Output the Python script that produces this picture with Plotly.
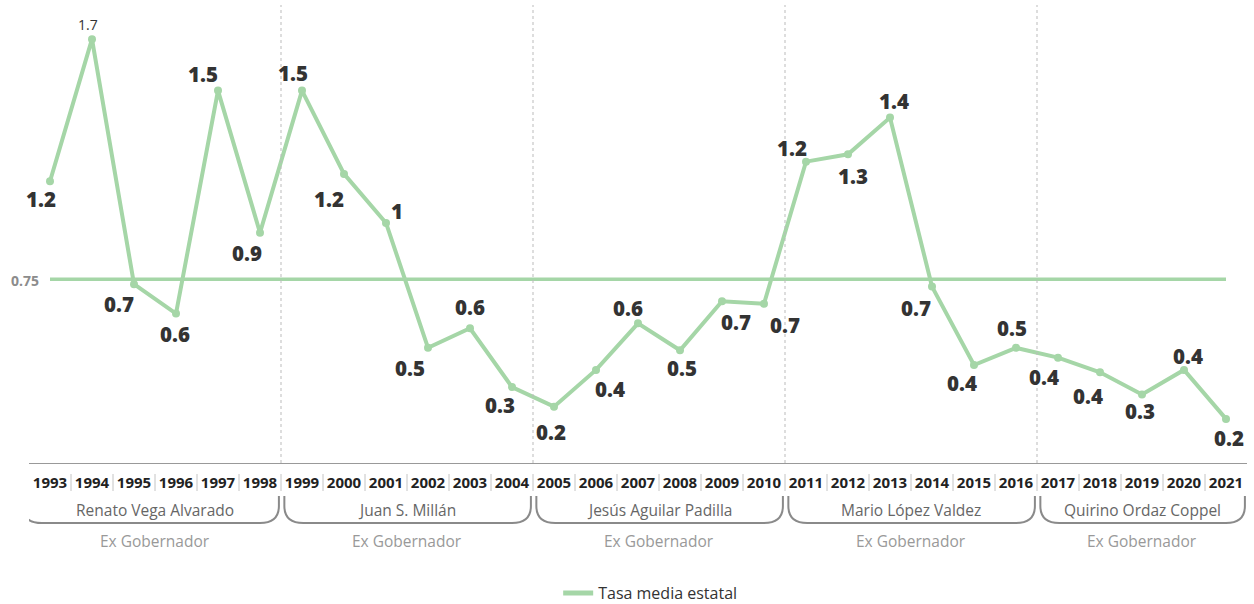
import plotly.graph_objects as go

years = list(range(1993, 2022))
values = [1.15, 1.73, 0.73, 0.61, 1.52, 0.94, 1.52, 1.18, 0.98, 0.47,
          0.55, 0.31, 0.23, 0.38, 0.57, 0.46, 0.66, 0.65, 1.23, 1.26,
          1.41, 0.72, 0.40, 0.47, 0.43, 0.37, 0.28, 0.38, 0.18]
labels = ["1.2", "1.7", "0.7", "0.6", "1.5", "0.9", "1.5", "1.2", "1", "0.5",
          "0.6", "0.3", "0.2", "0.4", "0.6", "0.5", "0.7", "0.7", "1.2", "1.3",
          "1.4", "0.7", "0.4", "0.5", "0.4", "0.4", "0.3", "0.4", "0.2"]
state_mean = 0.75
governors = ["Renato Vega Alvarado", "Juan S. Millán", "Jesús Aguilar Padilla",
             "Mario López Valdez", "Quirino Ordaz Coppel"]
governor_role = "Ex Gobernador"
term_starts = [1993, 1999, 2005, 2011, 2017]
term_ends = [1998, 2004, 2010, 2016, 2021]
legend_name = "Tasa media estatal"

# label offsets from their point, in pixels (dx right, dy down) - styling only
label_dx = [-9, -4, -15, -1, -15, -13, -9, -15, 11, -18,
            0, -12, -3, 14, -10, 2, 14, 21, -14, 5,
            4, -16, -12, -4, -14, -12, -2, 4, 3]
label_dy = [18, -15, 20, 20, -17, 20, -18, 25, -12, 20,
            -21, 18, 25, 19, -15, 18, 21, 21, -14, 22,
            -17, 21, 18, -20, 19, 24, 17, -14, 19]

GREEN = "#a5d6a7"
FONT = "Open Sans"

def py2paper(py):
    # pixel row -> paper coordinate (plot area from y=5 to y=463)
    return (463 - py) / 458.0

fig = go.Figure()

# state mean reference line
fig.add_trace(go.Scatter(
    x=[years[0], years[-1]], y=[state_mean, state_mean], mode="lines",
    line=dict(color=GREEN, width=3.5), showlegend=False, hoverinfo="skip"))

# main series
fig.add_trace(go.Scatter(
    x=years, y=values, mode="lines+markers",
    line=dict(color=GREEN, width=4), marker=dict(color=GREEN, size=8),
    showlegend=False, cliponaxis=False))

# legend-only entry
fig.add_trace(go.Scatter(
    x=[None], y=[None], mode="lines", name=legend_name,
    line=dict(color=GREEN, width=5)))

shapes = []
# dotted term separators
for e in term_ends[:-1]:
    shapes.append(dict(type="line", xref="x", yref="paper", x0=e + 0.5, x1=e + 0.5,
                       y0=0, y1=1, line=dict(color="#bbbbbb", width=1, dash="dot")))
# separators between year labels
for y in years[:-1]:
    shapes.append(dict(type="line", xref="x", yref="paper", x0=y + 0.5, x1=y + 0.5,
                       y0=py2paper(474), y1=py2paper(491),
                       line=dict(color="#c4c4c4", width=1)))
# brackets
ytop = py2paper(496)
ymid = py2paper(506)
ybot = py2paper(523)
rx = 0.45
for s, e in zip(term_starts, term_ends):
    x0 = s - 0.5 + (-0.15 if s == term_starts[0] else 0.08)
    x1 = e + 0.5 - 0.05
    path = (f"M {x0},{ytop} L {x0},{ymid} Q {x0},{ybot} {x0 + rx},{ybot} "
            f"L {x1 - rx},{ybot} Q {x1},{ybot} {x1},{ymid} L {x1},{ytop}")
    shapes.append(dict(type="path", xref="x", yref="paper", path=path,
                       line=dict(color="#8a8a8a", width=2)))

annotations = []
# value labels
for i, (yr, v, t) in enumerate(zip(years, values, labels)):
    small = (i == 1)
    annotations.append(dict(
        x=yr, y=v, xref="x", yref="y", text=t,
        showarrow=False, xanchor="center", yanchor="middle",
        xshift=label_dx[i], yshift=-label_dy[i],
        font=dict(family=FONT, size=14 if small else 20.5, color="#333333",
                  weight="normal" if small else 800)))

for name, s, e in zip(governors, term_starts, term_ends):
    c = (s + e) / 2
    annotations.append(dict(x=c, y=py2paper(510), xref="x", yref="paper", text=name,
                            showarrow=False, yanchor="middle",
                            font=dict(family=FONT, size=15.5, color="#666666")))
    annotations.append(dict(x=c, y=py2paper(541), xref="x", yref="paper", text=governor_role,
                            showarrow=False, yanchor="middle",
                            font=dict(family=FONT, size=15.5, color="#999999")))
annotations.append(dict(x=(25 - 29) / 1218.0, y=state_mean, xref="paper", yref="y",
                        text="<b>0.75</b>", showarrow=False, yanchor="middle",
                        xanchor="center", yshift=-1,
                        font=dict(family=FONT, size=14, color="#8c8c8c")))

fig.update_layout(
    width=1254, height=604,
    margin=dict(l=29, r=7, t=5, b=141, autoexpand=False),
    plot_bgcolor="white", paper_bgcolor="white",
    font=dict(family=FONT),
    shapes=shapes, annotations=annotations,
    legend=dict(orientation="h", x=0.51, y=py2paper(593), xanchor="center", yanchor="middle",
                font=dict(family=FONT, size=16, color="#333333")),
    xaxis=dict(range=[1992.5, 2021.5], tickmode="array", tickvals=years,
               ticktext=[str(y) for y in years], showgrid=False, zeroline=False,
               showline=True, linecolor="#999999", linewidth=1,
               ticks="outside", ticklen=6, tickcolor="rgba(0,0,0,0)",
               tickfont=dict(family=FONT, size=15, color="#222222", weight="bold")),
    yaxis=dict(range=[0, 458 / 245.0], visible=False, showgrid=False, zeroline=False),
)

fig.write_html("out.html", config={"displayModeBar": False},
               post_script="document.body.style.margin='0px';document.body.style.overflow='hidden';")
